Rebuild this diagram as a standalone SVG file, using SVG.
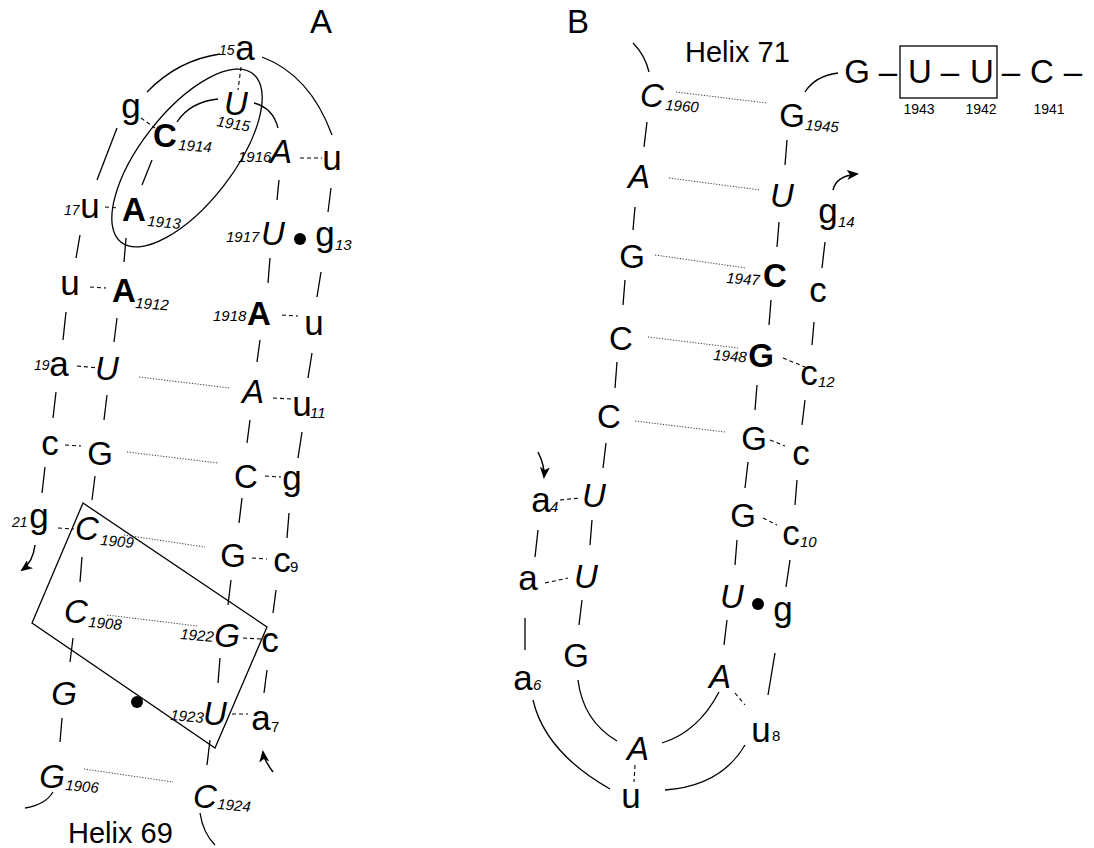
<svg xmlns="http://www.w3.org/2000/svg" width="1094" height="848" viewBox="0 0 1094 848">
<style>
text{font-family:"Liberation Sans",Arial,Helvetica,sans-serif;fill:#000}
.t{font-size:33px;text-anchor:middle}
.l{font-size:35px}
.i{font-style:italic}
.b{font-weight:bold}
.s{font-size:15px;font-style:italic}
.p{font-size:14px;font-style:italic}
.sn{font-size:15px}
.n{font-size:14px;text-anchor:middle}
.h{font-size:29px}
.bb{stroke:#000;stroke-width:1.3;fill:none}
.hb{stroke:#000;stroke-width:1.1;stroke-dasharray:4 3;fill:none}
.wc{stroke:#222;stroke-width:0.9;stroke-dasharray:1.2 1.6;fill:none}
.ar{stroke:#000;stroke-width:1.5;fill:none}
</style>
<defs>
<marker id="ah" markerWidth="12" markerHeight="10" refX="10" refY="5" orient="auto" markerUnits="userSpaceOnUse">
<path d="M0,0 L12,5 L0,10 L3,5 Z" fill="#000"/>
</marker>
</defs>

<g id="connectors">
<line class="bb" x1="117" y1="128" x2="97" y2="180"/>
<line class="bb" x1="152" y1="160" x2="142" y2="185"/>
<line class="bb" x1="279" y1="180" x2="277" y2="200"/>
<line class="bb" x1="331" y1="188" x2="328" y2="212"/>
<line class="bb" x1="80" y1="235" x2="76" y2="258"/>
<line class="bb" x1="126" y1="238" x2="124" y2="262"/>
<line class="bb" x1="270" y1="258" x2="268" y2="283"/>
<line class="bb" x1="321" y1="272" x2="317" y2="297"/>
<line class="bb" x1="66" y1="312" x2="63" y2="340"/>
<line class="bb" x1="117" y1="318" x2="114" y2="342"/>
<line class="bb" x1="260" y1="340" x2="257" y2="362"/>
<line class="bb" x1="312" y1="353" x2="308" y2="378"/>
<line class="bb" x1="56" y1="392" x2="53" y2="418"/>
<line class="bb" x1="107" y1="395" x2="104" y2="420"/>
<line class="bb" x1="250" y1="420" x2="247" y2="443"/>
<line class="bb" x1="302" y1="432" x2="298" y2="458"/>
<line class="bb" x1="45" y1="467" x2="42" y2="493"/>
<line class="bb" x1="95" y1="476" x2="92" y2="500"/>
<line class="bb" x1="242" y1="498" x2="239" y2="523"/>
<line class="bb" x1="289" y1="513" x2="287" y2="538"/>
<line class="bb" x1="82" y1="557" x2="80" y2="582"/>
<line class="bb" x1="231" y1="580" x2="228" y2="605"/>
<line class="bb" x1="276" y1="590" x2="273" y2="613"/>
<line class="bb" x1="73" y1="638" x2="70" y2="662"/>
<line class="bb" x1="220" y1="658" x2="218" y2="683"/>
<line class="bb" x1="267" y1="670" x2="264" y2="693"/>
<line class="bb" x1="62" y1="718" x2="60" y2="742"/>
<line class="bb" x1="210" y1="740" x2="207" y2="765"/>
<path class="bb" d="M147,92 Q178,60 220,54"/>
<path class="bb" d="M262,57 Q310,75 332,135"/>
<path class="bb" d="M177,122 Q190,102 218,99"/>
<path class="bb" d="M254,103 Q273,108 278,128"/>
<path class="bb" d="M53,792 Q45,805 25,808"/>
<path class="bb" d="M200,813 Q203,833 215,845"/>
<line class="hb" x1="241" y1="67" x2="238" y2="90"/>
<line class="hb" x1="141" y1="118" x2="155" y2="128"/>
<line class="hb" x1="300" y1="158" x2="322" y2="158"/>
<line class="hb" x1="105" y1="207" x2="119" y2="208"/>
<line class="hb" x1="90" y1="287" x2="106" y2="288"/>
<line class="hb" x1="282" y1="315" x2="298" y2="316"/>
<line class="hb" x1="77" y1="366" x2="99" y2="368"/>
<line class="hb" x1="273" y1="398" x2="291" y2="399"/>
<line class="hb" x1="65" y1="445" x2="81" y2="446"/>
<line class="hb" x1="265" y1="476" x2="281" y2="477"/>
<line class="hb" x1="58" y1="528" x2="74" y2="529"/>
<line class="hb" x1="252" y1="558" x2="267" y2="559"/>
<line class="hb" x1="243" y1="638" x2="262" y2="639"/>
<line class="hb" x1="232" y1="714" x2="248" y2="714"/>
<line class="wc" x1="139" y1="377" x2="230" y2="388"/>
<line class="wc" x1="127" y1="452" x2="218" y2="463"/>
<line class="wc" x1="124" y1="535" x2="205" y2="547"/>
<line class="wc" x1="107" y1="615" x2="197" y2="626"/>
<line class="wc" x1="84" y1="769" x2="173" y2="782"/>
<circle cx="300" cy="239" r="6" fill="#000"/>
<circle cx="137" cy="702" r="6" fill="#000"/>
<path class="ar" d="M35,545 Q33,562 22,570" marker-end="url(#ah)"/>
<path class="ar" d="M273,772 Q264,760 263,752" marker-end="url(#ah)"/>
<ellipse cx="187" cy="158" rx="107" ry="46" transform="rotate(-52 187 158)" class="bb"/>
<polygon points="83,503 267,627 215,748 32,623" class="bb"/>
<line class="bb" x1="647" y1="122" x2="644" y2="147"/>
<line class="bb" x1="787" y1="140" x2="785" y2="165"/>
<line class="bb" x1="635" y1="207" x2="633" y2="230"/>
<line class="bb" x1="779" y1="222" x2="777" y2="247"/>
<line class="bb" x1="825" y1="242" x2="822" y2="268"/>
<line class="bb" x1="625" y1="280" x2="623" y2="305"/>
<line class="bb" x1="771" y1="300" x2="769" y2="325"/>
<line class="bb" x1="814" y1="322" x2="812" y2="345"/>
<line class="bb" x1="617" y1="362" x2="615" y2="388"/>
<line class="bb" x1="757" y1="385" x2="755" y2="410"/>
<line class="bb" x1="805" y1="400" x2="802" y2="425"/>
<line class="bb" x1="606" y1="443" x2="603" y2="468"/>
<line class="bb" x1="748" y1="462" x2="745" y2="488"/>
<line class="bb" x1="797" y1="480" x2="795" y2="505"/>
<line class="bb" x1="538" y1="530" x2="535" y2="557"/>
<line class="bb" x1="592" y1="520" x2="590" y2="545"/>
<line class="bb" x1="737" y1="540" x2="735" y2="565"/>
<line class="bb" x1="790" y1="560" x2="786" y2="587"/>
<line class="bb" x1="525" y1="618" x2="525" y2="650"/>
<line class="bb" x1="582" y1="600" x2="579" y2="625"/>
<line class="bb" x1="727" y1="620" x2="724" y2="645"/>
<line class="bb" x1="775" y1="653" x2="768" y2="695"/>
<path class="bb" d="M633,43 Q645,55 649,72"/>
<path class="bb" d="M805,92 Q815,76 838,73"/>
<path class="bb" d="M533,700 Q545,752 610,789"/>
<path class="bb" d="M578,680 Q583,721 617,741"/>
<path class="bb" d="M662,743 Q698,732 719,692"/>
<path class="bb" d="M665,790 Q721,786 745,745"/>
<line class="hb" x1="560" y1="500" x2="580" y2="498"/>
<line class="hb" x1="545" y1="583" x2="568" y2="578"/>
<line class="hb" x1="783" y1="358" x2="805" y2="367"/>
<line class="hb" x1="770" y1="440" x2="785" y2="446"/>
<line class="hb" x1="763" y1="518" x2="777" y2="525"/>
<line class="hb" x1="735" y1="693" x2="745" y2="705"/>
<line class="hb" x1="635" y1="765" x2="634" y2="782"/>
<line class="wc" x1="676" y1="92" x2="767" y2="103"/>
<line class="wc" x1="669" y1="178" x2="760" y2="190"/>
<line class="wc" x1="655" y1="255" x2="746" y2="268"/>
<line class="wc" x1="648" y1="337" x2="738" y2="348"/>
<line class="wc" x1="635" y1="421" x2="725" y2="432"/>
<circle cx="758" cy="604" r="6" fill="#000"/>
<path class="ar" d="M833,190 Q836,176 857,174" marker-end="url(#ah)"/>
<path class="ar" d="M538,452 Q545,466 544,477" marker-end="url(#ah)"/>
<rect x="900" y="46" width="97" height="52" class="bb"/>
</g>

<g id="labelA"><text class="t" x="321" y="33">A</text></g>
<g id="a15"><text class="p" x="219" y="55">15</text><text class="t l" x="245" y="60">a</text></g>
<g id="U1915"><text class="t i" x="236" y="115">U</text><text class="s" x="216" y="126" transform="rotate(10 216 126)">1915</text></g>
<g id="g16"><text class="t l" x="131" y="118">g</text></g>
<g id="C1914"><text class="t b" x="165" y="147">C</text><text class="s" x="178" y="150" transform="rotate(4 178 150)">1914</text></g>
<g id="A1916"><text class="s" x="238" y="162">1916</text><text class="t i" x="281" y="163">A</text></g>
<g id="u12a"><text class="t l" x="332" y="170">u</text></g>
<g id="u17"><text class="p" x="64" y="215">17</text><text class="t l" x="90" y="218">u</text></g>
<g id="A1913"><text class="t b" x="134" y="221">A</text><text class="s" x="147" y="226" transform="rotate(5 147 226)">1913</text></g>
<g id="U1917"><text class="s" x="226" y="242">1917</text><text class="t i" x="273" y="245">U</text></g>
<g id="g13"><text class="t l" x="325" y="246">g</text><text class="s" x="335" y="250">13</text></g>
<g id="u18"><text class="t l" x="70" y="295">u</text></g>
<g id="A1912"><text class="t b" x="124" y="302">A</text><text class="s" x="135" y="308" transform="rotate(4 135 308)">1912</text></g>
<g id="A1918"><text class="s" x="213" y="321">1918</text><text class="t b" x="259" y="325">A</text></g>
<g id="u12"><text class="t l" x="314" y="335">u</text></g>
<g id="a19"><text class="p" x="34" y="370">19</text><text class="t l" x="59" y="376">a</text></g>
<g id="U1911"><text class="t i" x="107" y="380">U</text></g>
<g id="A1919"><text class="t i" x="253" y="403">A</text></g>
<g id="u11"><text class="t l" x="302" y="416">u</text><text class="s" x="310" y="418">11</text></g>
<g id="c20"><text class="t l" x="50" y="455">c</text></g>
<g id="G1910"><text class="t" x="100" y="465">G</text></g>
<g id="C1920"><text class="t" x="246" y="488">C</text></g>
<g id="g10"><text class="t l" x="292" y="490">g</text></g>
<g id="g21"><text class="p" x="12" y="527">21</text><text class="t l" x="39" y="528">g</text></g>
<g id="C1909"><text class="t i" x="87" y="540">C</text><text class="s" x="100" y="545" transform="rotate(5 100 545)">1909</text></g>
<g id="G1921"><text class="t" x="233" y="567">G</text></g>
<g id="c9"><text class="t l" x="282" y="572">c</text><text class="sn" x="290" y="572">9</text></g>
<g id="C1908"><text class="t i" x="76" y="623">C</text><text class="s" x="88" y="627" transform="rotate(5 88 627)">1908</text></g>
<g id="G1922"><text class="s" x="180" y="639" transform="rotate(5 180 639)">1922</text><text class="t i" x="227" y="647">G</text></g>
<g id="c8"><text class="t l" x="270" y="652">c</text></g>
<g id="G1907"><text class="t i" x="64" y="705">G</text></g>
<g id="U1923"><text class="s" x="170" y="720" transform="rotate(5 170 720)">1923</text><text class="t i" x="215" y="725">U</text></g>
<g id="a7"><text class="t l" x="261" y="730">a</text><text class="sn" x="271" y="732">7</text></g>
<g id="G1906"><text class="t i" x="52" y="788">G</text><text class="s" x="65" y="790" transform="rotate(5 65 790)">1906</text></g>
<g id="C1924"><text class="t i" x="205" y="808">C</text><text class="s" x="217" y="809" transform="rotate(5 217 809)">1924</text></g>
<g id="helix69"><text class="h" x="68" y="843">Helix 69</text></g>

<g id="labelB"><text class="t" x="578" y="33">B</text></g>
<g id="helix71"><text class="h" x="685" y="62">Helix 71</text></g>
<g id="C1960"><text class="t i" x="652" y="107">C</text><text class="s" x="665" y="110" transform="rotate(4 665 110)">1960</text></g>
<g id="G1945"><text class="t" x="792" y="127">G</text><text class="s" x="805" y="130" transform="rotate(4 805 130)">1945</text></g>
<g id="A1959"><text class="t i" x="639" y="188">A</text></g>
<g id="U1946"><text class="t i" x="782" y="207">U</text></g>
<g id="g14"><text class="t l" x="828" y="223">g</text><text class="s" x="838" y="227">14</text></g>
<g id="G1958"><text class="t" x="632" y="268">G</text></g>
<g id="C1947"><text class="s" x="726" y="283" transform="rotate(4 726 283)">1947</text><text class="t b" x="775" y="287">C</text></g>
<g id="c13"><text class="t l" x="818" y="302">c</text></g>
<g id="C1957"><text class="t" x="621" y="350">C</text></g>
<g id="G1948"><text class="s" x="713" y="360" transform="rotate(4 713 360)">1948</text><text class="t b" x="761" y="367">G</text></g>
<g id="c12"><text class="t l" x="809" y="385">c</text><text class="s" x="818" y="387">12</text></g>
<g id="C1956"><text class="t" x="609" y="428">C</text></g>
<g id="G1949"><text class="t" x="754" y="450">G</text></g>
<g id="c11"><text class="t l" x="801" y="465">c</text></g>
<g id="a4"><text class="t l" x="541" y="512">a</text><text class="s" x="550" y="512">4</text></g>
<g id="U1955"><text class="t i" x="594" y="507">U</text></g>
<g id="G1950"><text class="t" x="743" y="527">G</text></g>
<g id="c10"><text class="t l" x="791" y="545">c</text><text class="s" x="800" y="547">10</text></g>
<g id="a5"><text class="t l" x="528" y="590">a</text></g>
<g id="U1954"><text class="t i" x="586" y="588">U</text></g>
<g id="U1951"><text class="t i" x="732" y="608">U</text></g>
<g id="g9"><text class="t l" x="783" y="621">g</text></g>
<g id="G1953"><text class="t" x="576" y="667">G</text></g>
<g id="a6"><text class="t l" x="523" y="690">a</text><text class="s" x="533" y="690">6</text></g>
<g id="A1952"><text class="t i" x="720" y="688">A</text></g>
<g id="u8"><text class="t l" x="761" y="742">u</text><text class="sn" x="772" y="741">8</text></g>
<g id="A1953b"><text class="t i" x="638" y="760">A</text></g>
<g id="u7b"><text class="t l" x="631" y="808">u</text></g>
<g id="G1944"><text class="t" x="857" y="83">G</text><text class="t" x="888" y="83">–</text></g>
<g id="U1943"><text class="t" x="920" y="83">U</text><text class="t" x="950" y="83">–</text><text class="n" x="919" y="114">1943</text></g>
<g id="U1942"><text class="t" x="982" y="83">U</text><text class="t" x="1011" y="83">–</text><text class="n" x="981" y="114">1942</text></g>
<g id="C1941"><text class="t" x="1042" y="83">C</text><text class="t" x="1073" y="83">–</text><text class="n" x="1049" y="114">1941</text></g>
</svg>
